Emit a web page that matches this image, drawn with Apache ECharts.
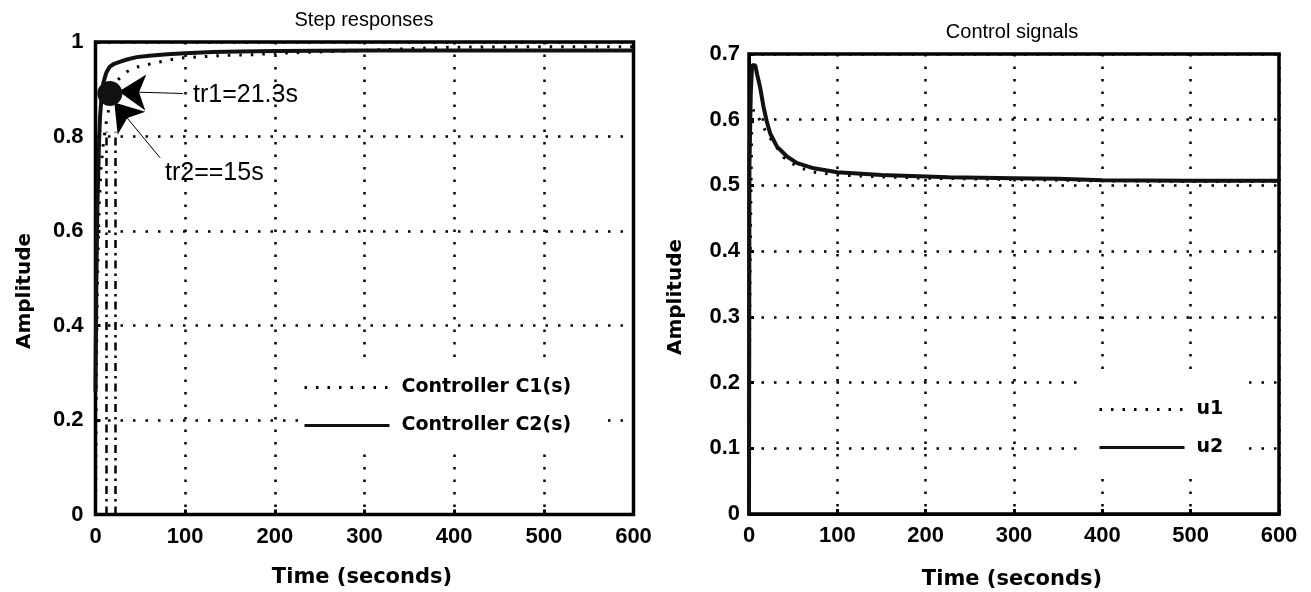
<!DOCTYPE html>
<html>
<head>
<meta charset="utf-8">
<script src="https://cdn.jsdelivr.net/npm/echarts@6/dist/echarts.min.js"></script>
<style>
html,body{margin:0;padding:0;background:#fff;}
#chart{width:1311px;height:592px;}
</style>
</head>
<body>
<div id="chart"></div>
<script>
// ---- data ----
const xTicks = [0, 100, 200, 300, 400, 500, 600];
const stepYTicks = [0, 0.2, 0.4, 0.6, 0.8, 1];
const ctrlYTicks = [0, 0.1, 0.2, 0.3, 0.4, 0.5, 0.6, 0.7];

// Step responses
const c1Time = [0, 1, 2, 4, 6, 9, 12, 16, 20, 25, 35, 44, 69, 94, 120, 146, 174, 200, 250, 300, 350, 400, 500, 600];
const c1Amp  = [0, 0.30, 0.48, 0.65, 0.73, 0.79, 0.83, 0.87, 0.90, 0.92, 0.937, 0.946, 0.957, 0.966, 0.969, 0.972, 0.973, 0.976, 0.979, 0.982, 0.986, 0.989, 0.99, 0.99];
const c2Time = [0, 1, 2, 3, 4, 5, 7, 9, 12, 16, 20, 27, 35, 46, 60, 80, 100, 130, 160, 200, 300, 400, 500, 600];
const c2Amp  = [0.26, 0.50, 0.64, 0.72, 0.79, 0.84, 0.89, 0.915, 0.935, 0.948, 0.953, 0.958, 0.963, 0.968, 0.971, 0.974, 0.976, 0.979, 0.98, 0.981, 0.982, 0.982, 0.982, 0.982];

// Rise-time annotations
const riseTimes = [12.5, 21.5];      // dashed vertical markers
const riseLineTop = 0.81;
const riseDot = [16, 0.891];         // big filled dot
const tr1Arrow = [[97.5, 0.891], [26, 0.895]];
const tr2Arrow = [[72, 0.755], [21, 0.872]];
const tr1Text = 'tr1=21.3s';
const tr2Text = 'tr2==15s';

// Control signals
const u1Time = [0, 1, 3, 5, 8, 12, 18, 25, 39, 55, 75, 100, 150, 200, 300, 400, 500, 600];
const u1Val  = [0, 0.35, 0.58, 0.615, 0.61, 0.60, 0.585, 0.57, 0.543, 0.528, 0.52, 0.516, 0.513, 0.511, 0.509, 0.507, 0.506, 0.506];
const u2Time = [0, 0.5, 2, 3.5, 7, 9, 12.5, 16.4, 20, 24, 31.7, 43, 54.5, 73.5, 100, 150, 226, 300, 350, 400, 500, 600];
const u2Val  = [0, 0.53, 0.64, 0.683, 0.683, 0.67, 0.65, 0.62, 0.598, 0.579, 0.559, 0.544, 0.534, 0.526, 0.52, 0.516, 0.5125, 0.511, 0.51, 0.508, 0.507, 0.507];

const zip = (a, b) => a.map((v, i) => [v, b[i]]);

const tickFont = {fontFamily: '"Liberation Sans", Arial, sans-serif', fontWeight: 'bold', fontSize: 22, color: '#000'};
const dotted = {type: [2.5, 10], width: 2.5, color: '#000'};

function xAxisCfg(gi) {
  return {
    type: 'value', gridIndex: gi, min: 0, max: 600, interval: 100,
    axisLine: {show: true, lineStyle: {color: '#000', width: 3}},
    axisTick: {show: true, inside: true, length: 5, lineStyle: {color: '#000', width: 3}},
    axisLabel: Object.assign({margin: 11}, tickFont),
    splitLine: {show: true, lineStyle: dotted}
  };
}
function yAxisCfg(gi, max, interval, margin) {
  return {
    type: 'value', gridIndex: gi, min: 0, max: max, interval: interval,
    axisLine: {show: true, lineStyle: {color: '#000', width: 3}},
    axisTick: {show: true, inside: true, length: 5, lineStyle: {color: '#000', width: 3}},
    axisLabel: Object.assign({margin: margin, formatter: v => (v === 0 ? '0' : (v === 1 ? '1' : v.toFixed(1)))}, tickFont),
    splitLine: {show: true, lineStyle: dotted}
  };
}

const legendText = {fontFamily: '"DejaVu Sans", sans-serif', fontWeight: 'bold', fontSize: 19, color: '#000', padding: [0, 0, 0, 7]};
const hiddenSymbol = {color: 'rgba(0,0,0,0)', borderWidth: 0, opacity: 0};

const option = {
  animation: false,
  backgroundColor: '#fff',
  grid: [
    {left: 95.5, top: 42, width: 538, height: 472.5, show: true, borderColor: '#000', borderWidth: 3.5, backgroundColor: 'transparent'},
    {left: 749, top: 54, width: 530, height: 460, show: true, borderColor: '#000', borderWidth: 3.5, backgroundColor: 'transparent'}
  ],
  xAxis: [xAxisCfg(0), xAxisCfg(1)],
  yAxis: [yAxisCfg(0, 1, 0.2, 12), yAxisCfg(1, 0.7, 0.1, 9)],
  legend: [
    {
      data: ['Controller C1(s)', 'Controller C2(s)'],
      orient: 'vertical', left: 298, top: 366,
      itemWidth: 85, itemHeight: 14, itemGap: 19,
      padding: [12, 32, 14, 5],
      backgroundColor: '#fff',
      itemStyle: hiddenSymbol,
      lineStyle: {width: 3},
      textStyle: legendText
    },
    {
      data: ['u1', 'u2'],
      orient: 'vertical', left: 1085, top: 378,
      itemWidth: 85, itemHeight: 14, itemGap: 19,
      padding: [22, 18, 22, 13],
      backgroundColor: '#fff',
      itemStyle: hiddenSymbol,
      lineStyle: {width: 3},
      textStyle: legendText
    }
  ],
  series: [
    {
      name: 'Controller C1(s)', type: 'line', xAxisIndex: 0, yAxisIndex: 0,
      data: zip(c1Time, c1Amp), showSymbol: false, symbol: 'none',
      lineStyle: {color: '#000', width: 3, type: [2.5, 9]}, itemStyle: {color: '#000'}, z: 3
    },
    {
      name: 'Controller C2(s)', type: 'line', xAxisIndex: 0, yAxisIndex: 0,
      data: zip(c2Time, c2Amp), showSymbol: false, symbol: 'none',
      lineStyle: {color: '#111', width: 4}, itemStyle: {color: '#111'}, z: 4
    },
    {
      name: 'riseMarkers', type: 'line', xAxisIndex: 0, yAxisIndex: 0, data: [],
      markLine: {
        silent: true, symbol: ['none', 'none'], label: {show: false},
        lineStyle: {color: '#000', width: 2.5, type: [8, 5, 2.5, 5]},
        data: riseTimes.map(t => [{coord: [t, 0]}, {coord: [t, riseLineTop]}])
      }
    },
    {
      name: 'riseDot', type: 'scatter', xAxisIndex: 0, yAxisIndex: 0,
      data: [riseDot], symbol: 'circle', symbolSize: 25, itemStyle: {color: '#111', opacity: 1}, z: 6,
      markLine: {
        silent: true, symbol: ['none', 'arrow'], symbolSize: 27, label: {show: false},
        lineStyle: {color: '#000', width: 1, type: 'solid', opacity: 1}, itemStyle: {color: '#000', opacity: 1},
        data: [
          [{coord: tr1Arrow[0]}, {coord: tr1Arrow[1]}],
          [{coord: tr2Arrow[0]}, {coord: tr2Arrow[1]}]
        ]
      }
    },
    {
      name: 'u1', type: 'line', xAxisIndex: 1, yAxisIndex: 1,
      data: zip(u1Time, u1Val), showSymbol: false, symbol: 'none',
      lineStyle: {color: '#000', width: 3, type: [2.5, 9]}, itemStyle: {color: '#000'}, z: 3
    },
    {
      name: 'u2', type: 'line', xAxisIndex: 1, yAxisIndex: 1,
      data: zip(u2Time, u2Val), showSymbol: false, symbol: 'none',
      lineStyle: {color: '#111', width: 4}, itemStyle: {color: '#111'}, z: 4
    }
  ],
  graphic: [
    {type: 'text', x: 364, y: 20, style: {text: 'Step responses', font: '20px "Liberation Sans", Arial, sans-serif', fill: '#000', align: 'center', verticalAlign: 'middle', textAlign: 'center', textVerticalAlign: 'middle'}},
    {type: 'text', x: 1012, y: 32, style: {text: 'Control signals', font: '20px "Liberation Sans", Arial, sans-serif', fill: '#000', align: 'center', verticalAlign: 'middle', textAlign: 'center', textVerticalAlign: 'middle'}},
    {type: 'text', x: 25, y: 291, rotation: Math.PI / 2, style: {text: 'Amplitude', font: 'bold 20px "DejaVu Sans", sans-serif', fill: '#000', align: 'center', verticalAlign: 'middle', textAlign: 'center', textVerticalAlign: 'middle'}},
    {type: 'text', x: 676, y: 297, rotation: Math.PI / 2, style: {text: 'Amplitude', font: 'bold 20px "DejaVu Sans", sans-serif', fill: '#000', align: 'center', verticalAlign: 'middle', textAlign: 'center', textVerticalAlign: 'middle'}},
    {type: 'text', x: 362, y: 578, style: {text: 'Time (seconds)', font: 'bold 21px "DejaVu Sans", sans-serif', fill: '#000', align: 'center', verticalAlign: 'middle', textAlign: 'center', textVerticalAlign: 'middle'}},
    {type: 'text', x: 1012, y: 580, style: {text: 'Time (seconds)', font: 'bold 21px "DejaVu Sans", sans-serif', fill: '#000', align: 'center', verticalAlign: 'middle', textAlign: 'center', textVerticalAlign: 'middle'}},
    {type: 'text', x: 193, y: 95, style: {text: tr1Text, font: '25px "Liberation Sans", Arial, sans-serif', fill: '#000', align: 'left', verticalAlign: 'middle', textAlign: 'left', textVerticalAlign: 'middle'}},
    {type: 'text', x: 165, y: 173, style: {text: tr2Text, font: '25px "Liberation Sans", Arial, sans-serif', fill: '#000', align: 'left', verticalAlign: 'middle', textAlign: 'left', textVerticalAlign: 'middle'}}
  ]
};

const chart = echarts.init(document.getElementById('chart'), null, {renderer: 'canvas'});
chart.setOption(option);
</script>
</body>
</html>
